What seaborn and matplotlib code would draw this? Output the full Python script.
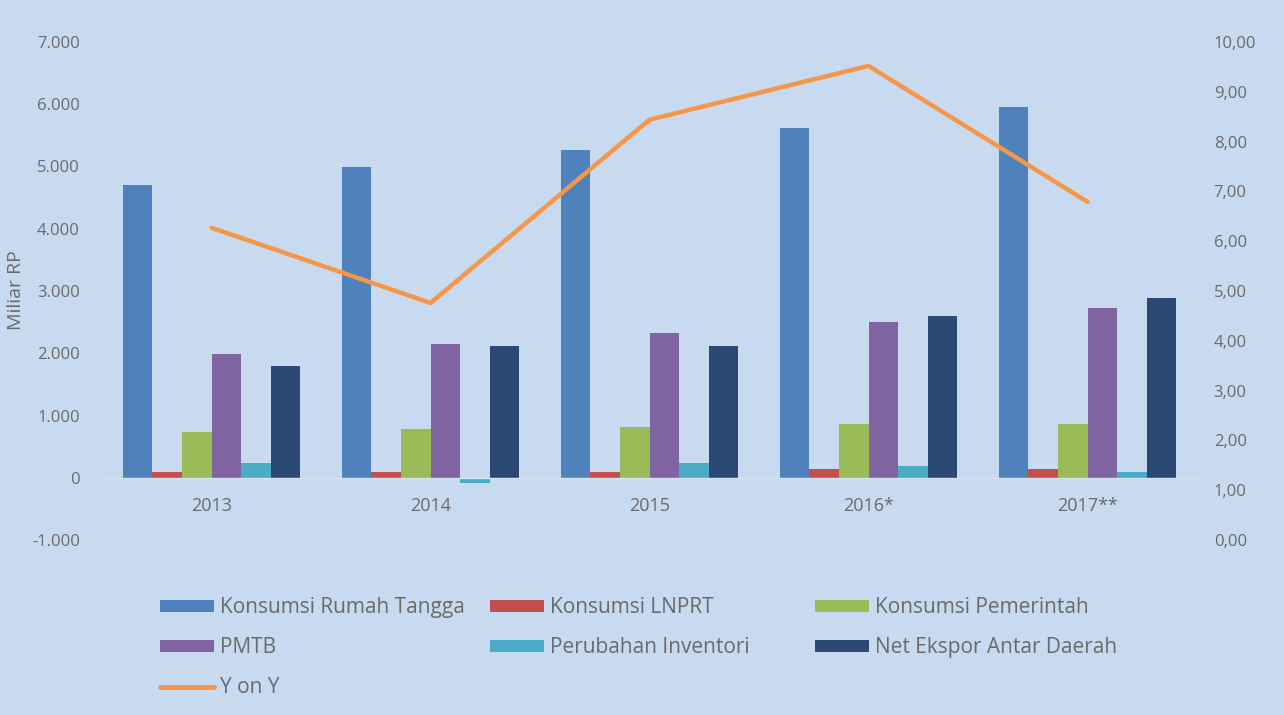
import matplotlib
matplotlib.use("Agg")
import matplotlib.pyplot as plt
from matplotlib.ticker import FuncFormatter, FixedLocator
from matplotlib.patches import Patch
from matplotlib.lines import Line2D
import seaborn as sns
import pandas as pd

# ---- data ----
years = ["2013", "2014", "2015", "2016*", "2017**"]
rumah_tangga = [4700, 4990, 5270, 5620, 5950]
lnprt = [100, 100, 100, 140, 140]
pemerintah = [740, 780, 820, 870, 870]
pmtb = [1990, 2150, 2320, 2510, 2730]
inventori = [230, -90, 230, 190, 90]
net_ekspor = [1800, 2120, 2120, 2600, 2890]
yoy = [6.27, 4.76, 8.44, 9.52, 6.79]

series_names = ["Konsumsi Rumah Tangga", "Konsumsi LNPRT", "Konsumsi Pemerintah",
                "PMTB", "Perubahan Inventori", "Net Ekspor Antar Daerah"]
series_vals = [rumah_tangga, lnprt, pemerintah, pmtb, inventori, net_ekspor]
line_name = "Y on Y"
colors = ["#4F81BD", "#C0504D", "#9BBB59", "#8064A2", "#4BACC6", "#2A4A73"]
orange = "#F79646"
bg = "#C8DAF0"
txt = "#6A6A6A"

rows = []
for name, vals in zip(series_names, series_vals):
    for y, v in zip(years, vals):
        rows.append({"Tahun": y, "Komponen": name, "Nilai": v})
df = pd.DataFrame(rows)
df_line = pd.DataFrame({"Tahun": years, "YoY": yoy})

sns.set_theme(style="white")
plt.rcParams["font.family"] = ["Open Sans", "DejaVu Sans"]

fig = plt.figure(figsize=(12.84, 7.15), dpi=100, facecolor=bg)
W, H = 1284, 715
ax = fig.add_axes([102 / W, 1 - 540 / H, (1197 - 102) / W, (540 - 42) / H])
ax.set_facecolor(bg)

sns.barplot(data=df, x="Tahun", y="Nilai", hue="Komponen", order=years,
            hue_order=series_names, palette=colors, width=0.81,
            saturation=1, ax=ax, legend=False, edgecolor="none", linewidth=0)
ax.set_ylim(-1000, 7000)
ax.set_xlim(-0.5, 4.5)
ax.yaxis.set_major_locator(FixedLocator(list(range(-1000, 7001, 1000))))
ax.yaxis.set_major_formatter(FuncFormatter(lambda v, p: f"{int(v):,}".replace(",", ".")))
for s in ["top", "right", "left"]:
    ax.spines[s].set_visible(False)
ax.spines["bottom"].set_position(("data", 0))
ax.spines["bottom"].set_color("#D6E3F3")
ax.spines["bottom"].set_linewidth(1.0)
ax.tick_params(axis="y", length=0, pad=16, labelsize=12, labelcolor=txt)
ax.tick_params(axis="x", length=0, pad=14, labelsize=13, labelcolor=txt)
ax.set_xlabel("")
ax.set_ylabel("")
ax.grid(False)

ax2 = ax.twinx()
sns.lineplot(data=df_line, x="Tahun", y="YoY", ax=ax2, color=orange, linewidth=3.2,
             sort=False, legend=False)
ax2.set_ylim(0, 10)
ax2.yaxis.set_major_locator(FixedLocator(list(range(0, 11))))
ax2.yaxis.set_major_formatter(FuncFormatter(lambda v, p: f"{v:.2f}".replace(".", ",")))
ax2.tick_params(axis="y", length=0, pad=12, labelsize=12, labelcolor=txt)
for s in ["top", "right", "left", "bottom"]:
    ax2.spines[s].set_visible(False)
ax2.set_ylabel("")
ax2.set_xlabel("")
ax2.grid(False)

fig.text(16 / W, 1 - 290 / H, "Miliar RP", rotation=90, ha="center", va="center",
         fontsize=14, color=txt)

# ---- legend (three columns, row-major order like the reference) ----
handles = [Patch(facecolor=c, edgecolor="none") for c in colors]
line_h = Line2D([0], [0], color=orange, linewidth=3.5)
cols = [
    ([handles[0], handles[3], line_h], [series_names[0], series_names[3], line_name], 160),
    ([handles[1], handles[4]], [series_names[1], series_names[4]], 490),
    ([handles[2], handles[5]], [series_names[2], series_names[5]], 815),
]
for hs, ls, xpx in cols:
    leg = fig.legend(hs, ls, loc="upper left", bbox_to_anchor=(xpx / W, 1 - 597 / H),
                     frameon=False, fontsize=15, handlelength=2.6, handleheight=0.5,
                     handletextpad=0.3, labelspacing=0.92, borderaxespad=0,
                     borderpad=0)
    for t in leg.get_texts():
        t.set_color(txt)

fig.savefig("out.png", dpi=100, facecolor=bg)
